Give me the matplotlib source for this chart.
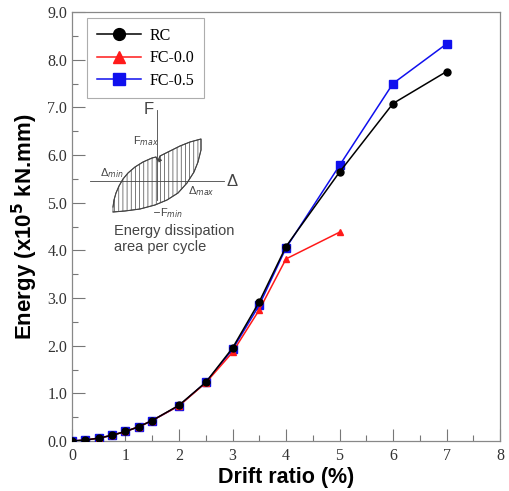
import numpy as np
import matplotlib
matplotlib.use("Agg")
import matplotlib.pyplot as plt
from matplotlib.lines import Line2D

# drift ratio (%) for each cycle
drift = [0, 0.25, 0.5, 0.75, 1.0, 1.25, 1.5, 2.0, 2.5, 3.0, 3.5, 4.0, 5.0, 6.0, 7.0]
drift_fc00 = [0, 0.25, 0.5, 0.75, 1.0, 1.25, 1.5, 2.0, 2.5, 3.0, 3.5, 4.0, 5.0]

# cumulative energy (x10^5 kN.mm)
energy_rc = [0.0, 0.02, 0.06, 0.12, 0.20, 0.30, 0.43, 0.75, 1.23, 1.95, 2.92, 4.08, 5.64, 7.08, 7.75]
energy_fc00 = [0.0, 0.02, 0.06, 0.12, 0.20, 0.30, 0.43, 0.74, 1.22, 1.86, 2.75, 3.82, 4.38]
energy_fc05 = [0.0, 0.02, 0.06, 0.12, 0.20, 0.30, 0.43, 0.74, 1.23, 1.92, 2.85, 4.05, 5.78, 7.50, 8.33]

labels = ["RC", "FC-0.0", "FC-0.5"]

serif = ["Liberation Serif", "DejaVu Serif"]
sans = ["Liberation Sans", "DejaVu Sans"]
plt.rcParams["hatch.linewidth"] = 0.5

fig = plt.figure(figsize=(5.1, 4.91), dpi=100)
ax = fig.add_axes([72 / 510, 1 - 441 / 491, 428 / 510, 429 / 491])

ax.plot(drift, energy_fc05, color="#1010ee", lw=1.1, marker="s", ms=5.5, zorder=3)
ax.plot(drift_fc00, energy_fc00, color="#ff1a1a", lw=1.1, marker="^", ms=5, zorder=4)
ax.plot(drift, energy_rc, color="black", lw=1.1, marker="o", ms=5, zorder=5)

ax.set_xlim(0, 8)
ax.set_ylim(0, 9)
ax.set_xticks(np.arange(0, 9, 1))
ax.set_xticks(np.arange(0, 8.01, 0.5), minor=True)
ax.set_yticks(np.arange(0, 9.01, 1))
ax.set_yticks(np.arange(0, 9.01, 0.5), minor=True)
ax.set_yticklabels([f"{v:.1f}" for v in np.arange(0, 9.01, 1)])
ax.tick_params(which="major", direction="in", length=9, width=0.8, color="#777777",
               labelsize=11.5)
ax.tick_params(axis="x", which="major", pad=5)
ax.tick_params(which="minor", direction="in", length=4.5, width=0.8, color="#777777")
for lab in ax.get_xticklabels() + ax.get_yticklabels():
    lab.set_family(serif)
    lab.set_color("#333333")
for sp in ax.spines.values():
    sp.set_color("#888888")
    sp.set_linewidth(0.9)

ax.set_xlabel("Drift ratio (%)", fontsize=15.5, fontweight="bold", family=sans, labelpad=2)
ax.set_ylabel("Energy (x10$^{\\mathbf{5}}$ kN.mm)", fontsize=16, fontweight="bold",
              family=sans, labelpad=5)

handles = [
    Line2D([], [], color="black", lw=1.1, marker="o", ms=8.5),
    Line2D([], [], color="#ff1a1a", lw=1.1, marker="^", ms=8.5),
    Line2D([], [], color="#1010ee", lw=1.1, marker="s", ms=8.5),
]
leg = ax.legend(handles, labels, loc="upper left", bbox_to_anchor=(0.035, 0.985),
                borderaxespad=0, prop={"family": serif, "size": 11.5}, handlelength=2.8,
                fancybox=False, edgecolor="#999999", borderpad=0.6, labelspacing=0.4,
                handletextpad=0.5)
leg.get_frame().set_linewidth(0.8)

# inset sketch of a hysteresis loop
ins = fig.add_axes([90 / 510, 1 - 255 / 491, 160 / 510, 155 / 491])
ins.set_xlim(90, 250)
ins.set_ylim(255, 100)
ins.axis("off")
gc = "#444444"
ins.plot([157, 157], [110, 200], color=gc, lw=0.6)
ins.plot([90, 224], [181, 181], color=gc, lw=0.6)

upper_x = [113, 114, 116, 119, 123, 128, 135, 143, 152, 156, 158, 160, 170, 180, 190, 201]
upper_y = [207, 200, 193, 186, 179, 173, 167, 162, 158, 157, 161, 156, 151, 146, 142, 139]
lower_x = [113, 125, 140, 155, 167, 178, 187, 194, 198, 201, 201]
lower_y = [212, 211, 209, 205, 200, 193, 183, 172, 162, 150, 139]
poly_x = upper_x + lower_x[::-1]
poly_y = upper_y + lower_y[::-1]
ins.fill(poly_x, poly_y, facecolor="none", edgecolor=gc, lw=0.6, hatch="||||")
ins.plot(poly_x, poly_y, color=gc, lw=0.8)

ins.text(149, 110, "F", fontsize=12, color=gc, family=sans, ha="center", va="center")
ins.text(232, 182, "Δ", fontsize=12, color=gc, family=sans, ha="center", va="center")
ins.text(133, 141, "F$_{max}$", fontsize=8, color=gc, family=sans, ha="left", va="center")
ins.text(100, 173, "Δ$_{min}$", fontsize=8, color=gc, family=sans, ha="left", va="center")
ins.text(188, 191, "Δ$_{max}$", fontsize=8, color=gc, family=sans, ha="left", va="center")
ins.text(160, 213, "F$_{min}$", fontsize=8, color=gc, family=sans, ha="left", va="center")
ins.plot([154, 159], [212, 212], color=gc, lw=0.6)
ins.annotate("", xy=(157, 165), xytext=(162, 157),
             arrowprops=dict(arrowstyle="-|>", color=gc, lw=0.6, mutation_scale=5))
ins.text(114, 239, "Energy dissipation\narea per cycle", fontsize=10.5, color=gc,
         family=sans, ha="left", va="center", linespacing=1.1)

fig.savefig("out.png", dpi=100)
